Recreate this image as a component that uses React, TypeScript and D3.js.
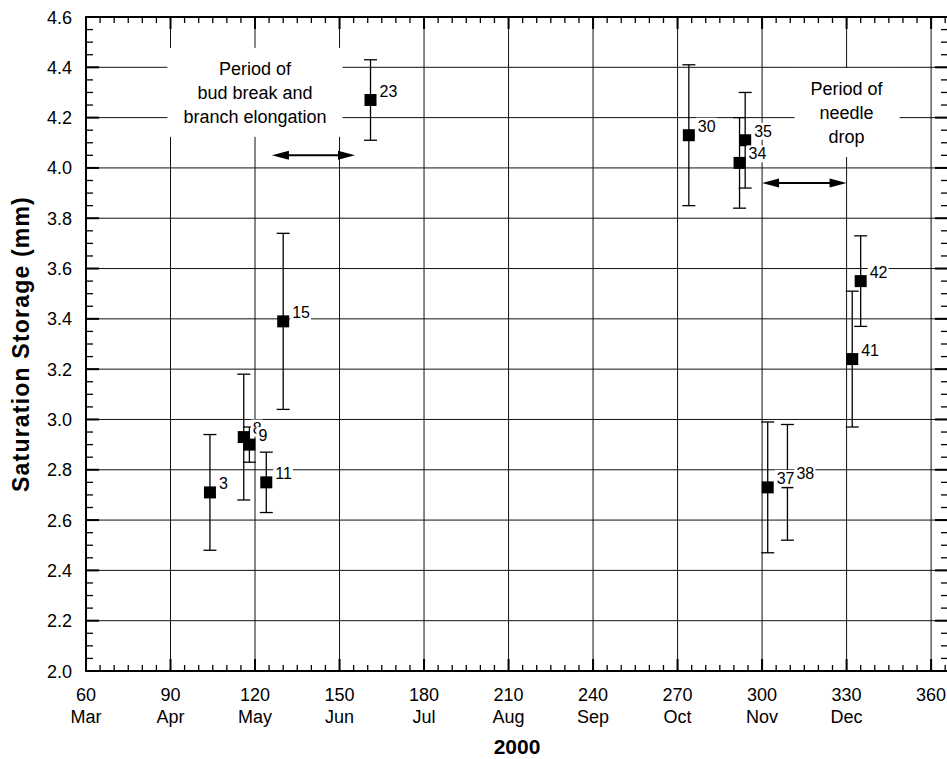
import { type RefObject, useEffect, useRef } from "react";
import * as d3 from "d3";

// sample numbers and their day of year / saturation storage (mm) with error
const pointIds = ["3", "8", "9", "11", "15", "23", "30", "34", "35", "37", "38", "41", "42"];
const days = [104, 116, 118, 124, 130, 161, 274, 292, 294, 302, 309, 332, 335];
const storage = [2.71, 2.93, 2.9, 2.75, 3.39, 4.27, 4.13, 4.02, 4.11, 2.73, 2.75, 3.24, 3.55];
const errors = [0.23, 0.25, 0.07, 0.12, 0.35, 0.16, 0.28, 0.18, 0.19, 0.26, 0.23, 0.27, 0.18];

const dayTicks = [60, 90, 120, 150, 180, 210, 240, 270, 300, 330, 360];
const monthLabels = ["Mar", "Apr", "May", "Jun", "Jul", "Aug", "Sep", "Oct", "Nov", "Dec", ""];
const storageTicks = [2.0, 2.2, 2.4, 2.6, 2.8, 3.0, 3.2, 3.4, 3.6, 3.8, 4.0, 4.2, 4.4, 4.6];

const budBreakLines = ["Period of", "bud break and", "branch elongation"];
const budBreakSpan = [126, 155.5];
const needleDropLines = ["Period of", "needle", "drop"];
const needleDropSpan = [300, 330];

const WIDTH = 947;
const HEIGHT = 759;
const FONT = "'Liberation Sans', Arial, Helvetica, sans-serif";

const drawChart = (svgRef: RefObject<SVGSVGElement>) => {
  const svg = d3
    .select(svgRef.current)
    .attr("width", WIDTH)
    .attr("height", HEIGHT)
    .style("font-family", FONT);

  const x = d3.scaleLinear().domain([60, 366]).range([86, 948]);
  const y = d3.scaleLinear().domain([2.0, 4.6]).range([671, 17]);
  const [x0, x1] = x.range();
  const [y0, y1] = y.range();

  svg.append("rect").attr("width", WIDTH).attr("height", HEIGHT).attr("fill", "#fff");

  // grid
  const grid = svg.append("g").attr("stroke", "#111").attr("stroke-width", 1);
  grid
    .selectAll("line.v")
    .data(dayTicks)
    .enter()
    .append("line")
    .attr("x1", (d) => x(d))
    .attr("x2", (d) => x(d))
    .attr("y1", y1)
    .attr("y2", y0);
  grid
    .selectAll("line.h")
    .data(storageTicks)
    .enter()
    .append("line")
    .attr("x1", x0)
    .attr("x2", x1)
    .attr("y1", (d) => y(d))
    .attr("y2", (d) => y(d));

  // ticks on all four sides, pointing in
  const ticks = svg.append("g").attr("stroke", "#000");
  const minorDays = d3.range(60, 366, 5).filter((d) => d % 30 !== 0);
  const minorVals = d3.range(0, 53).map((i) => 2 + i * 0.05).filter((_, i) => i % 4 !== 0);
  minorDays.forEach((d) => {
    ticks.append("line").attr("x1", x(d)).attr("x2", x(d)).attr("y1", y0).attr("y2", y0 - 6).attr("stroke-width", 1.3);
    ticks.append("line").attr("x1", x(d)).attr("x2", x(d)).attr("y1", y1).attr("y2", y1 + 6).attr("stroke-width", 1.3);
  });
  dayTicks.forEach((d) => {
    ticks.append("line").attr("x1", x(d)).attr("x2", x(d)).attr("y1", y0).attr("y2", y0 - 12).attr("stroke-width", 2);
    ticks.append("line").attr("x1", x(d)).attr("x2", x(d)).attr("y1", y1).attr("y2", y1 + 12).attr("stroke-width", 2);
  });
  minorVals.forEach((v) => {
    ticks.append("line").attr("x1", x0).attr("x2", x0 + 7).attr("y1", y(v)).attr("y2", y(v)).attr("stroke-width", 1.3);
    ticks.append("line").attr("x1", x1).attr("x2", x1 - 7).attr("y1", y(v)).attr("y2", y(v)).attr("stroke-width", 1.3);
  });
  storageTicks.forEach((v) => {
    ticks.append("line").attr("x1", x0).attr("x2", x0 + 13).attr("y1", y(v)).attr("y2", y(v)).attr("stroke-width", 2);
    ticks.append("line").attr("x1", x1).attr("x2", x1 - 13).attr("y1", y(v)).attr("y2", y(v)).attr("stroke-width", 2);
  });

  svg
    .append("rect")
    .attr("x", x0)
    .attr("y", y1)
    .attr("width", x1 - x0)
    .attr("height", y0 - y1)
    .attr("fill", "none")
    .attr("stroke", "#000")
    .attr("stroke-width", 2);

  // tick labels
  const tl = svg.append("g").attr("font-size", 18).attr("fill", "#000");
  dayTicks.forEach((d, i) => {
    tl.append("text").attr("x", x(d)).attr("y", 701).attr("text-anchor", "middle").text(d);
    tl.append("text").attr("x", x(d)).attr("y", 723).attr("text-anchor", "middle").text(monthLabels[i]);
  });
  storageTicks.forEach((v) => {
    tl.append("text")
      .attr("x", 72)
      .attr("y", y(v) + 6.5)
      .attr("text-anchor", "end")
      .text(v.toFixed(1));
  });

  svg
    .append("text")
    .attr("x", (x0 + x1) / 2)
    .attr("y", 754)
    .attr("text-anchor", "middle")
    .attr("font-size", 21)
    .attr("font-weight", "bold")
    .text("2000");
  svg
    .append("text")
    .attr("transform", `translate(29, ${(y0 + y1) / 2}) rotate(-90)`)
    .attr("text-anchor", "middle")
    .attr("font-size", 23)
    .attr("letter-spacing", 1.2)
    .attr("font-weight", "bold")
    .text("Saturation Storage (mm)");

  // annotation boxes
  const annotate = (lines: string[], day: number, value: number) => {
    const g = svg.append("g");
    const t = g.append("text").attr("font-size", 18).attr("text-anchor", "middle");
    lines.forEach((l, i) => {
      t.append("tspan").attr("x", x(day)).attr("y", y(value) + i * 24).text(l);
    });
    const b = (t.node() as SVGTextElement).getBBox();
    g.insert("rect", "text")
      .attr("x", b.x - 16)
      .attr("y", b.y - 11)
      .attr("width", b.width + 32)
      .attr("height", b.height + 21)
      .attr("fill", "#fff");
  };
  annotate(budBreakLines, 120, 4.37);
  annotate(needleDropLines, 330, 4.29);

  const arrow = (span: number[], value: number) => {
    const g = svg.append("g");
    const a = x(span[0]);
    const b = x(span[1]);
    const yy = y(value);
    g.append("line").attr("x1", a + 8).attr("x2", b - 8).attr("y1", yy).attr("y2", yy).attr("stroke", "#000").attr("stroke-width", 2);
    g.append("path").attr("d", `M${a},${yy}L${a + 17},${yy - 4.5}L${a + 17},${yy + 4.5}Z`).attr("fill", "#000");
    g.append("path").attr("d", `M${b},${yy}L${b - 17},${yy - 4.5}L${b - 17},${yy + 4.5}Z`).attr("fill", "#000");
  };
  arrow(budBreakSpan, 4.05);
  arrow(needleDropSpan, 3.94);

  // error bars
  const idx = d3.range(pointIds.length);
  const bars = svg.append("g").attr("stroke", "#000").attr("stroke-width", 1.3);
  idx.forEach((i) => {
    const cx = x(days[i]);
    const top = y(storage[i] + errors[i]);
    const bot = y(storage[i] - errors[i]);
    bars.append("line").attr("x1", cx).attr("x2", cx).attr("y1", top).attr("y2", bot);
    bars.append("line").attr("x1", cx - 6.5).attr("x2", cx + 6.5).attr("y1", top).attr("y2", top);
    bars.append("line").attr("x1", cx - 6.5).attr("x2", cx + 6.5).attr("y1", bot).attr("y2", bot);
  });

  svg
    .append("g")
    .selectAll("rect")
    .data(idx)
    .enter()
    .append("rect")
    .attr("x", (i) => x(days[i]) - 6)
    .attr("y", (i) => y(storage[i]) - 6)
    .attr("width", 12)
    .attr("height", 12)
    .attr("fill", "#000");

  // point labels with white background
  idx.forEach((i) => {
    const g = svg.append("g");
    const t = g
      .append("text")
      .attr("x", x(days[i]) + 9)
      .attr("y", y(storage[i]) - 9 + 5.5)
      .attr("font-size", 16)
      .text(pointIds[i]);
    const b = (t.node() as SVGTextElement).getBBox();
    g.insert("rect", "text")
      .attr("x", b.x - 2)
      .attr("y", b.y)
      .attr("width", b.width + 3)
      .attr("height", b.height)
      .attr("fill", "#fff");
  });
};

const clearChart = (svgRef: RefObject<SVGSVGElement>) => {
  d3.select(svgRef.current).selectAll("*").remove();
};

const App = () => {
  const svgRef = useRef<SVGSVGElement>(null);

  useEffect(() => {
    drawChart(svgRef);
    return () => {
      clearChart(svgRef);
    };
  }, [svgRef]);

  return (
    <div style={{ position: "absolute", left: 0, top: 0 }}>
      <svg ref={svgRef} style={{ display: "block" }}></svg>
    </div>
  );
};

export default App;
